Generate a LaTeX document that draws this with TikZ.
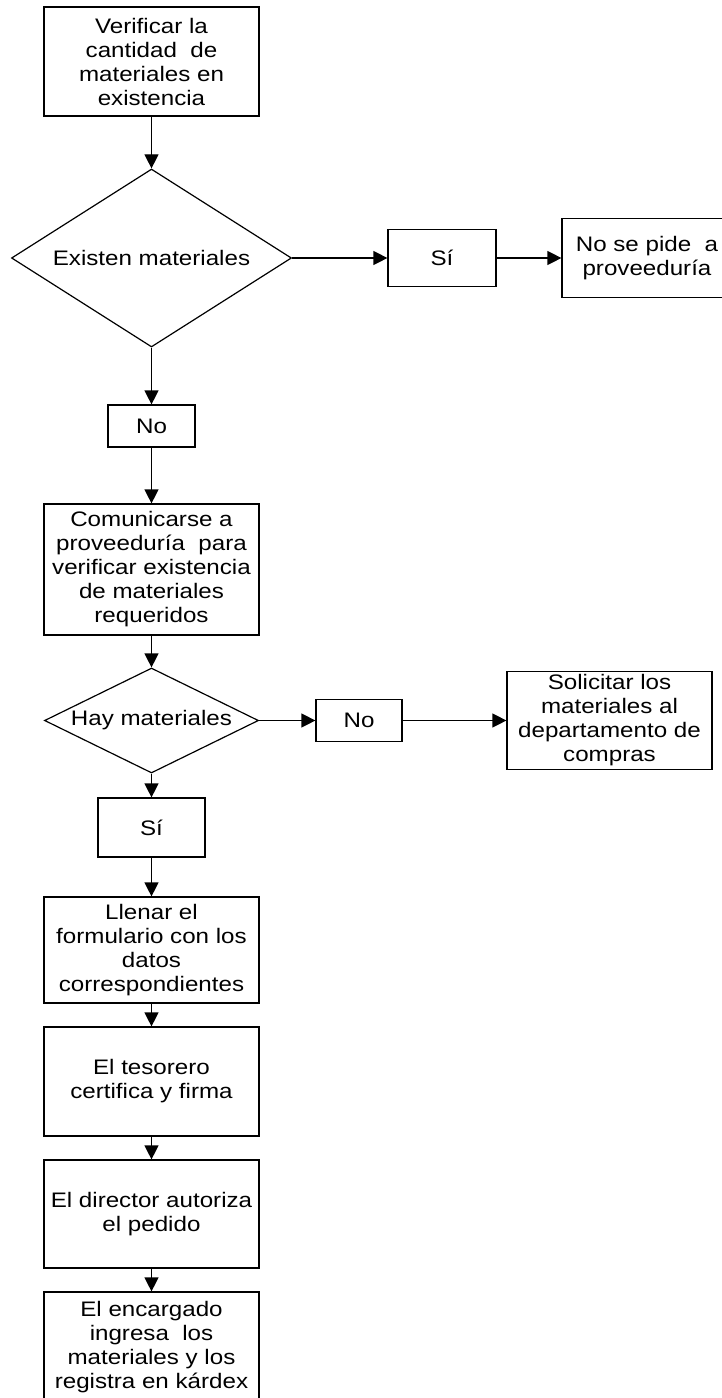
\documentclass[tikz,border=0pt]{standalone}
\usepackage{fontspec}
\setmainfont[FakeStretch=1.15]{Liberation Sans}
\usetikzlibrary{shapes.geometric,arrows.meta}

\begin{document}
\begin{tikzpicture}[x=0.5pt, y=-0.5pt, line width=0.6pt,
	caja/.style={draw, rectangle, align=center, inner sep=1pt, font=\fontsize{10.5}{12}\selectfont},
	rombo/.style={draw, diamond, inner sep=0pt, font=\fontsize{10.5}{12}\selectfont},
	flecha/.style={-{Triangle[width=7pt,length=7pt]}}]
	\useasboundingbox (0,0) rectangle (722,1398);

	\node[caja, minimum width=107.5pt, minimum height=54.5pt] (verificar) at (151.5, 61.5) {Verificar la\\cantidad\ \ de\\materiales en\\existencia};
	\node[rombo, aspect=1.57, minimum width=140pt, minimum height=89pt] (existen) at (151.5, 258) {Existen materiales};
	\node[caja, minimum width=54pt, minimum height=28.5pt] (si1) at (442, 258) {Sí};
	\node[caja, minimum width=85pt, minimum height=39.5pt] (nosepide) at (647, 258) {No se pide\ \ a\\proveeduría};
	\node[caja, minimum width=43.5pt, minimum height=21pt] (no1) at (151.5, 426) {No};

	\node[caja, minimum width=107.5pt, minimum height=65.5pt] (comunicarse) at (151.5, 569.5) {Comunicarse a\\proveeduría\ \ para\\verificar existencia\\de materiales\\requeridos};
	\node[rombo, aspect=2.04, minimum width=107pt, minimum height=52.5pt] (hay) at (151.5, 720.5) {Hay materiales};
	\node[caja, minimum width=43pt, minimum height=21pt] (no2) at (359, 720.5) {No};
	\node[caja, minimum width=102.5pt, minimum height=49pt] (solicitar) at (609.5, 720.5) {Solicitar los\\materiales al\\departamento de\\compras};
	\node[caja, minimum width=53.5pt, minimum height=29.5pt] (si2) at (151.5, 827.5) {Sí};

	\node[caja, minimum width=107.5pt, minimum height=53pt] (llenar) at (151.5, 950) {Llenar el\\formulario con los\\datos\\correspondientes};
	\node[caja, minimum width=107.5pt, minimum height=54.5pt] (tesorero) at (151.5, 1081.5) {El tesorero\\certifica y firma};
	\node[caja, minimum width=107.5pt, minimum height=54pt] (director) at (151.5, 1214) {El director autoriza\\el pedido};
	\node[caja, minimum width=107.5pt, minimum height=55pt] (encargado) at (151.5, 1347) {El encargado\\ingresa\ \ los\\materiales y los\\registra en kárdex};

	\draw[flecha] (verificar) -- (existen);
	\draw[flecha] (existen) -- (si1);
	\draw[flecha] (si1) -- (nosepide);
	\draw[flecha] (existen) -- (no1);
	\draw[flecha] (no1) -- (comunicarse);
	\draw[flecha] (comunicarse) -- (hay);
	\draw[flecha] (hay) -- (no2);
	\draw[flecha] (no2) -- (solicitar);
	\draw[flecha] (hay) -- (si2);
	\draw[flecha] (si2) -- (llenar);
	\draw[flecha] (llenar) -- (tesorero);
	\draw[flecha] (tesorero) -- (director);
	\draw[flecha] (director) -- (encargado);

\end{tikzpicture}
\end{document}
